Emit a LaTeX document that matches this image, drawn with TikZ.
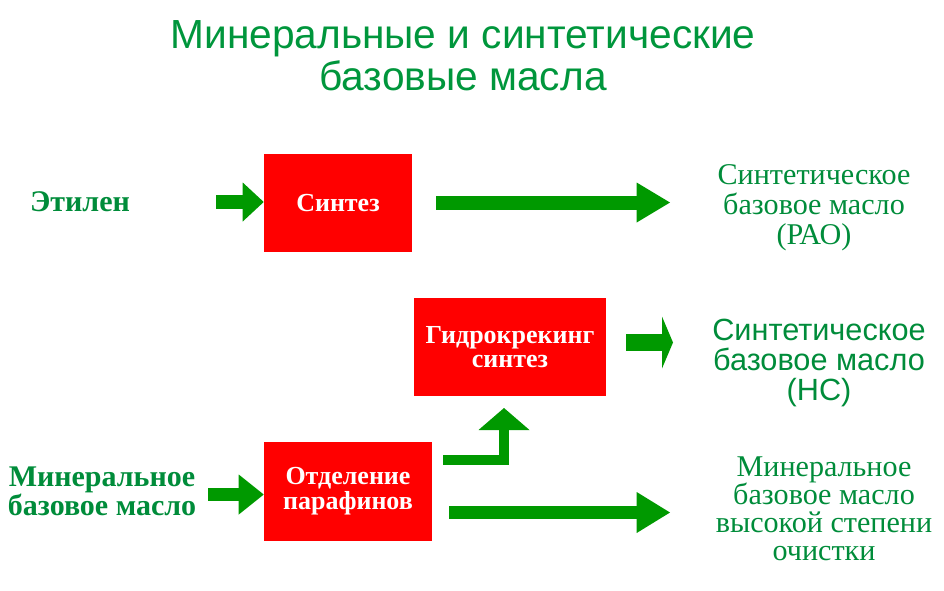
\documentclass[tikz,border=0pt]{standalone}
\usepackage{fontspec}
\setmainfont{Liberation Serif}
\newfontfamily\arialfont{Liberation Sans}
\usetikzlibrary{arrows.meta}
\definecolor{titlegreen}{RGB}{0,150,60}
\definecolor{textgreen}{RGB}{0,140,58}
\definecolor{arrowgreen}{RGB}{0,153,0}
\definecolor{boxred}{RGB}{255,0,0}

\begin{document}
\begin{tikzpicture}[x=0.75pt,y=-0.75pt,
	redbox/.style={fill=boxred, text=white, inner sep=0pt, align=center,
		font=\fontsize{19.5}{18.5}\selectfont\bfseries},
	label/.style={text=textgreen, inner sep=0pt, align=center},
	flow/.style={draw=arrowgreen}]
	\newcommand{\myfonttitle}{\arialfont\fontsize{30.5}{31.5}\selectfont}
	\newcommand{\myfontleft}{\fontsize{22.5}{20.25}\selectfont\bfseries}
	\newcommand{\myfontright}{\fontsize{22.6}{22.5}\selectfont}
	\useasboundingbox (0,0) rectangle (944,590);
	%Title
	\node [anchor=base, text=titlegreen, inner sep=0pt] (title1) at (463,48) {\myfonttitle Минеральные и синтетические};
	\node [anchor=base, text=titlegreen, inner sep=0pt] (title2) at (463,90) {\myfonttitle базовые масла};
	%Red boxes
	\node [redbox, minimum width=111pt, minimum height=73.5pt] (synth) at (338,203) {Синтез};
	\node [redbox, minimum width=144pt, minimum height=73.5pt] (hydro) at (510,347) {Гидрокрекинг\\синтез};
	\node [redbox, minimum width=126pt, minimum height=74.25pt] (dewax) at (348,491) {Отделение\\парафинов};
	%Inputs
	\node [label, anchor=base, font=\myfontleft] (ethylene) at (80,211) {Этилен};
	\node [label, font=\myfontleft] (mineral) at (102,491) {Минеральное\\базовое масло};
	%Products
	\node [label, font=\myfontright] (pao) at (814,208) {Синтетическое\\базовое масло\\(РАО)};
	\node [label, font=\arialfont\fontsize{23}{22.5}\selectfont] (hc) at (819,363) {Синтетическое\\базовое масло\\(НС)};
	\node [label, font=\fontsize{22.6}{21}\selectfont] (hvi) at (824,509) {Минеральное\\базовое масло\\высокой степени\\очистки};
	%Free ends of the arrows
	\coordinate (e0) at (216,202);
	\coordinate (p0) at (436,202.5);
	\coordinate (p1) at (670,202.5);
	\coordinate (c0) at (626,342.5);
	\coordinate (c1) at (673,342.5);
	\coordinate (m0) at (208,494.5);
	\coordinate (b0) at (443,460);
	\coordinate (b1) at (504,408);
	\coordinate (h0) at (449,512.5);
	\coordinate (h1) at (670,512.5);
	%Arrows
	\draw [flow, line width=10.5pt, -{Triangle[length=15.75pt, width=29.25pt, line width=0pt]}] (e0) -- (e0 -| synth.west);
	\draw [flow, line width=10.5pt, -{Triangle[length=25pt, width=30pt, line width=0pt]}] (p0) -- (p1);
	\draw [flow, line width=12.75pt, -{Triangle[length=8.25pt, width=39pt, line width=0pt]}] (c0) -- (c1);
	\draw [flow, line width=9.75pt, -{Triangle[length=18.75pt, width=30pt, line width=0pt]}] (m0) -- (m0 -| dewax.west);
	\draw [flow, line width=7.5pt, -{Triangle[length=16.5pt, width=38.25pt, line width=0pt]}] (b0) -| (b1);
	\draw [flow, line width=9.75pt, -{Triangle[length=25pt, width=30.75pt, line width=0pt]}] (h0) -- (h1);
\end{tikzpicture}
\end{document}
